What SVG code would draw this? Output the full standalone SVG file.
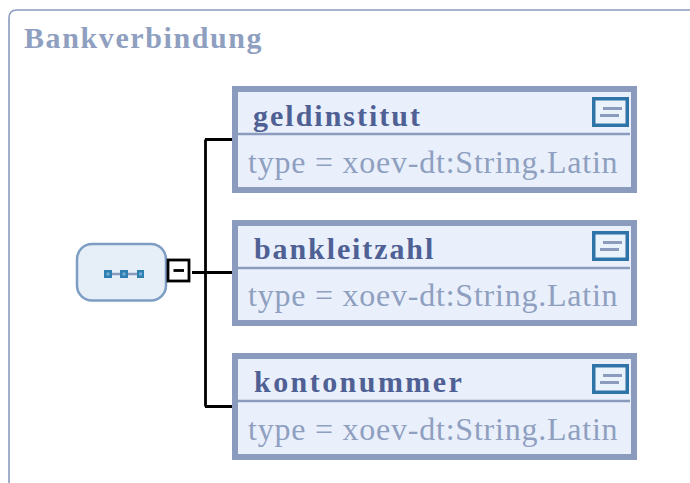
<svg xmlns="http://www.w3.org/2000/svg" width="690" height="483" viewBox="0 0 690 483">
<defs>
<style>
.box{fill:#e9f0fb;stroke:#8b9bbd;stroke-width:6}
.div{stroke:#8b9bbd;stroke-width:2.5;fill:none}
.name{font-family:"Liberation Serif",serif;font-weight:bold;font-size:30px;fill:#4f6094}
.type{font-family:"Liberation Serif",serif;font-size:32px;fill:#8f9fc0;letter-spacing:.77px}
.wire{stroke:#000;stroke-width:2.8;fill:none}
.ibox{fill:#eaf3fb;stroke:#2f74a8;stroke-width:3.5}
.iline{stroke:#8b9bbd;stroke-width:3}
.sq{fill:#2f7fb3}
.sqc{fill:#6fb0d6}
</style>
<g id="doc-icon">
<rect class="ibox" x="1.750" y="1.750" width="33.500" height="26.500"/>
<path class="iline" d="M11 11.500H30M8 18.500H27"/>
</g>
</defs>
<rect width="690" height="483" fill="#fff"/>
<g id="frame">
<path d="M9 483V18Q9 10 17 10H690" fill="none" stroke="#8b9bbd" stroke-width="1.600"/>
<text x="24" y="47.500" font-family="Liberation Serif,serif" font-weight="bold" font-size="30" fill="#8f9fc0" letter-spacing="1.6">Bankverbindung</text>
</g>
<g id="connectors">
<path class="wire" d="M192 272.500H232M205.500 139.500V406.500M205 139.500H232M205 406.500H232"/>
</g>
<g id="sequence">
<rect x="77" y="244" width="89" height="56.500" rx="15" fill="#e6eff8" stroke="#7d9dc2" stroke-width="2.500"/>
<path d="M110 274H140" stroke="#8b9bbd" stroke-width="2.500"/>
<rect class="sq" x="104" y="270" width="8" height="8"/><rect class="sqc" x="106.500" y="272.500" width="3" height="3"/>
<rect class="sq" x="120" y="270" width="8" height="8"/><rect class="sqc" x="122.500" y="272.500" width="3" height="3"/>
<rect class="sq" x="137" y="270" width="7" height="8"/><rect class="sqc" x="139" y="272.500" width="3" height="3"/>
</g>
<g id="collapse">
<rect x="168" y="260" width="21" height="21" fill="#fff" stroke="#000" stroke-width="2.800"/>
<path d="M173.500 270.500H184" stroke="#000" stroke-width="2.800"/>
</g>
<g id="geldinstitut">
<rect class="box" x="235" y="89" width="399" height="101"/>
<path class="div" d="M238 134H630"/>
<text class="name" x="253" y="125.500" letter-spacing="2">geldinstitut</text>
<text class="type" x="248" y="173">type = xoev-dt:String.Latin</text>
<use href="#doc-icon" x="592" y="97"/>
</g>
<g id="bankleitzahl">
<rect class="box" x="235" y="223" width="399" height="100"/>
<path class="div" d="M238 268H630"/>
<text class="name" x="254" y="258.500" letter-spacing="1.9">bankleitzahl</text>
<text class="type" x="248" y="306">type = xoev-dt:String.Latin</text>
<use href="#doc-icon" x="592" y="231"/>
</g>
<g id="kontonummer">
<rect class="box" x="235" y="356" width="399" height="101"/>
<path class="div" d="M238 401H630"/>
<text class="name" x="254" y="391.500" letter-spacing="2.45">kontonummer</text>
<text class="type" x="248" y="440">type = xoev-dt:String.Latin</text>
<use href="#doc-icon" x="592" y="364"/>
</g>
</svg>
